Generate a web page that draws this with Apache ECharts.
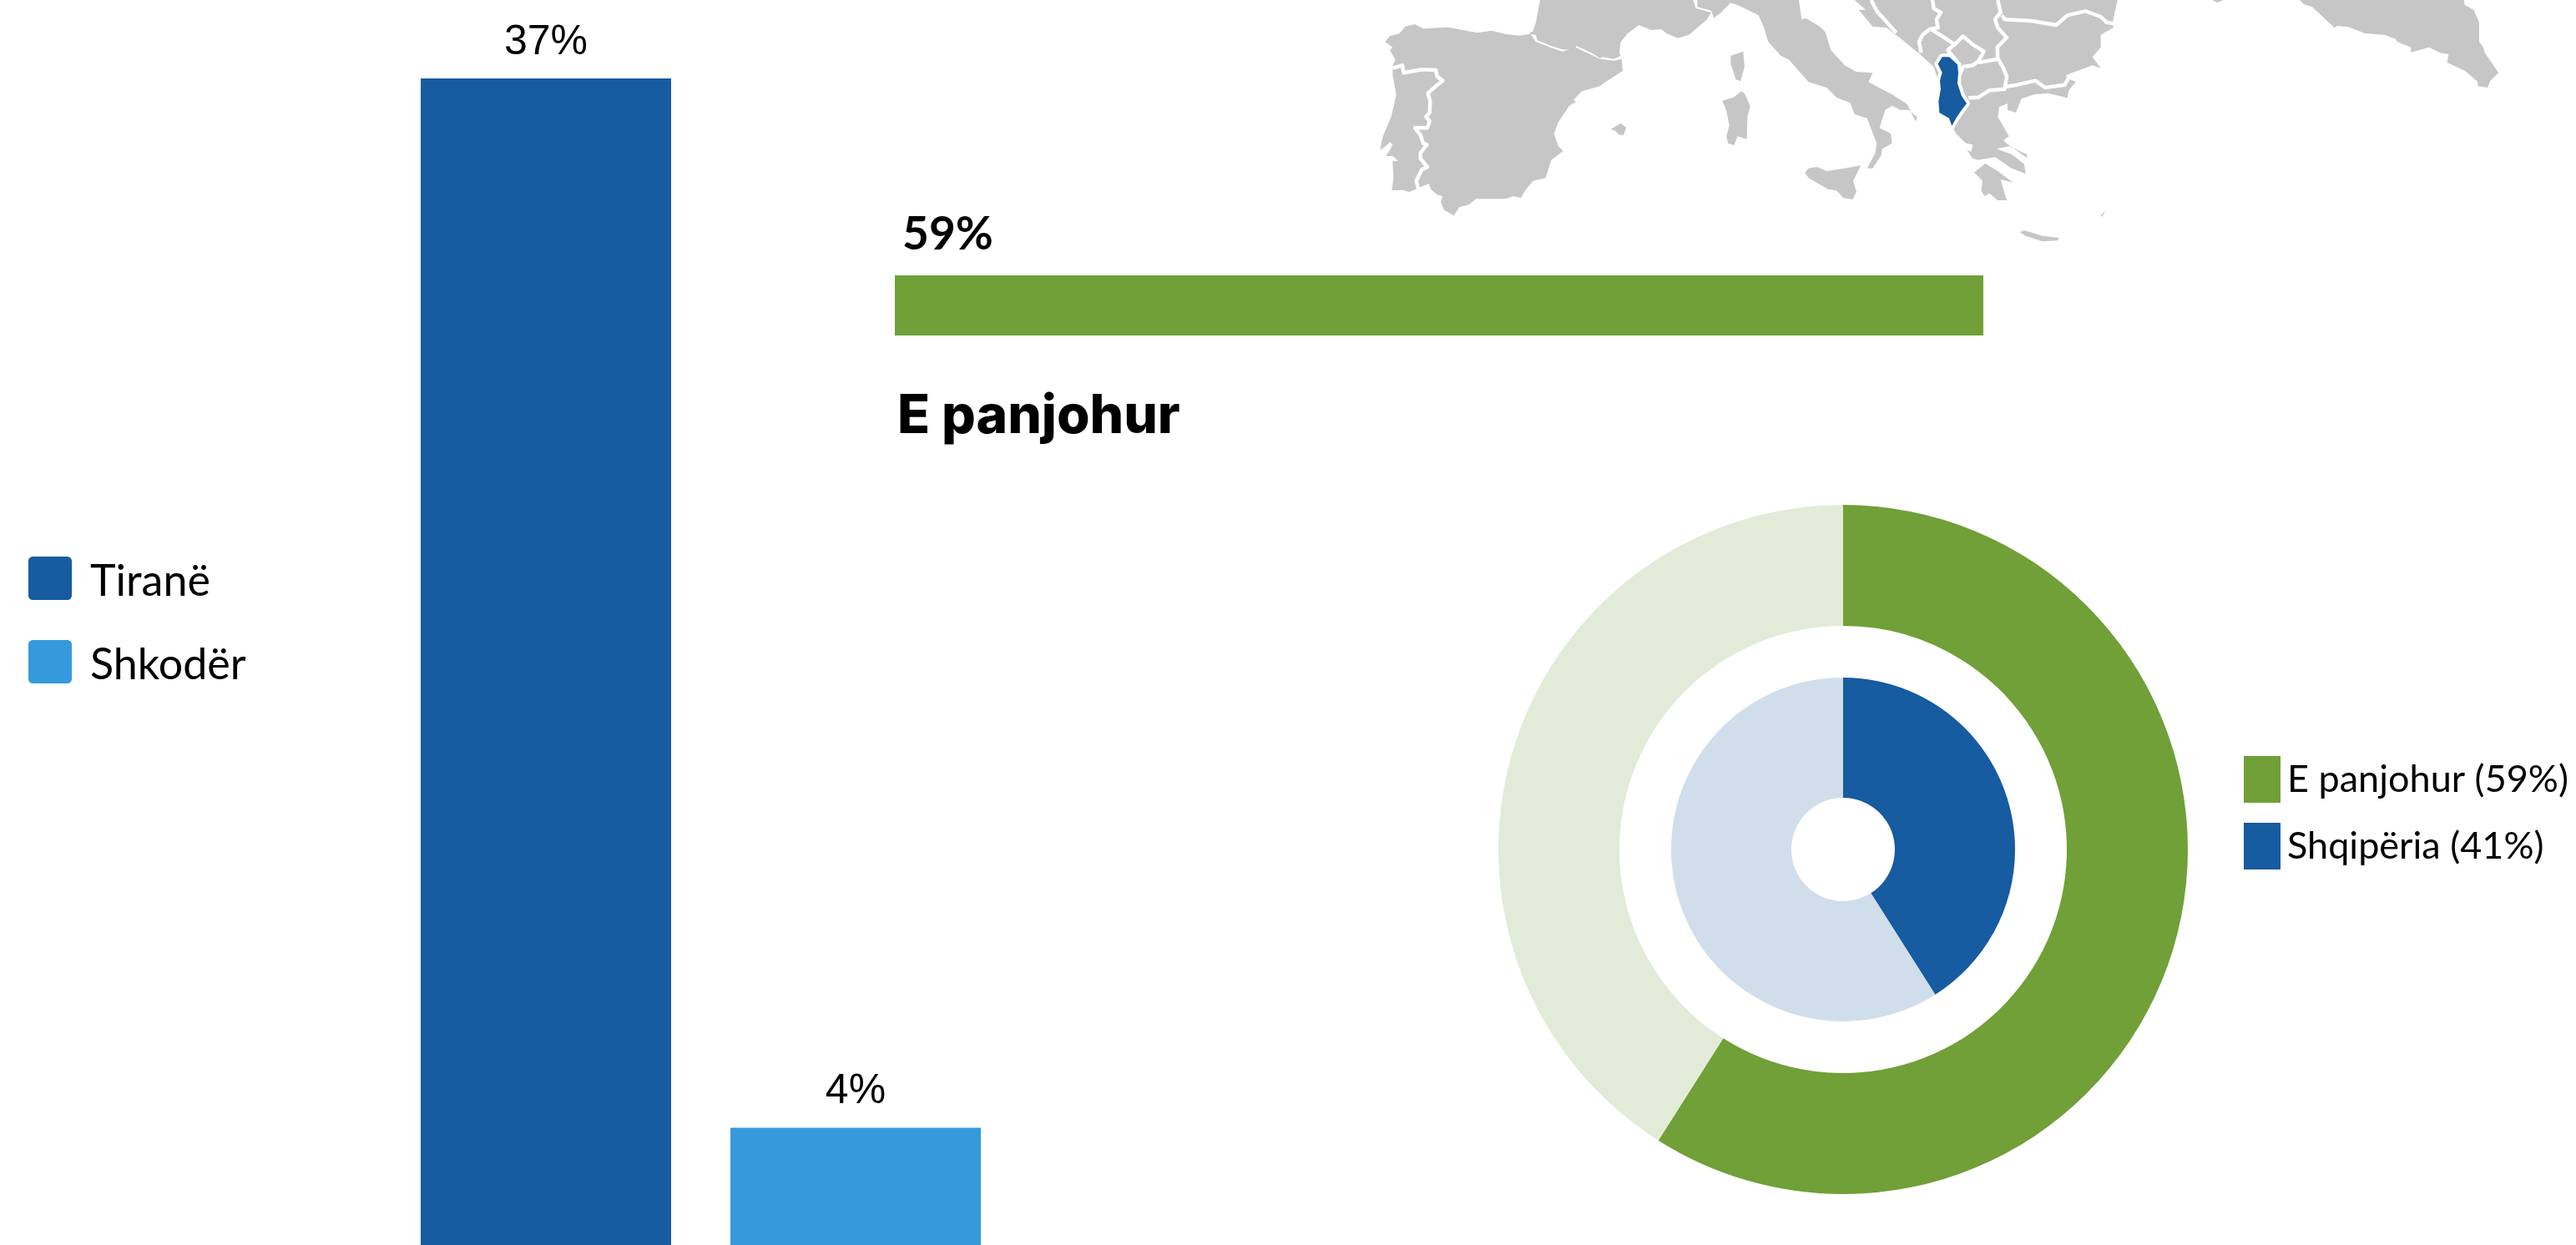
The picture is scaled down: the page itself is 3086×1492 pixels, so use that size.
<!DOCTYPE html>
<html>
<head>
<meta charset="utf-8">
<title>Shqipëria</title>
<script src="https://cdn.jsdelivr.net/npm/echarts@6/dist/echarts.min.js"></script>
<style>
  html, body { margin: 0; padding: 0; background: #fff; overflow: hidden; }
  #chart { width: 3086px; height: 1492px; }
</style>
</head>
<body>
<div id="chart"></div>
<script>
// data
const cityNames = ["Tiranë", "Shkodër"];
const cityValues = [37, 4];
const unknownValue = [59];
const unknownTitle = "E panjohur";
const donutNames = ["E panjohur (59%)", "Shqipëria (41%)"];
const outerRing = [59, 41];
const innerRing = [41, 59];

const BLUE = "#175ba0";
const SKY = "#359add";
const GREEN = "#70a037";
const GREY = "#c6c6c6";
const ROUND_ICON = "path://M2 0H18A2 2 0 0 1 20 2V18A2 2 0 0 1 18 20H2A2 2 0 0 1 0 18V2A2 2 0 0 1 2 0Z";

// background map outlines, traced in crop pixels (3x), [originX, points]
const IBERIA = [1640, [58,150,75,130,110,120,130,95,165,87,195,103,285,98,390,118,440,110,490,122,540,128,580,122,600,150,655,172,695,185,745,172,795,195,830,212,880,218,908,212,912,255,850,295,830,310,765,328,735,360,745,365,720,380,680,440,665,480,680,525,698,543,655,575,635,640,590,650,565,680,545,712,520,705,490,715,385,715,360,735,325,745,305,775,270,755,258,725,265,705,245,700,222,680,215,660,180,675,145,690,120,683,82,685,88,640,85,580,105,578,85,560,60,562,75,540,85,520,75,510,60,525,40,540,50,490,80,420,98,340,85,270,85,235,95,215,75,180,85,170]];
const FRANCE = [1640, [615,0,1165,0,1175,30,1230,45,1215,70,1150,125,1110,137,1070,120,1050,105,1015,108,970,90,930,120,905,150,900,190,905,200,880,212,840,205,830,210,800,190,745,165,740,180,695,178,655,165,605,145,600,125,575,122,590,110,600,80]];
const MALLORCA = [1640, [868,465,905,443,925,458,915,485,900,485,885,470]];
const CORSICA = [1640, [1300,200,1345,185,1350,240,1335,292,1318,285,1300,230]];
const SARDINIA = [1640, [1270,362,1310,350,1340,328,1352,340,1370,382,1360,420,1358,500,1325,490,1312,522,1290,515,1285,490,1295,450,1285,400]];
const ITALY = [2100, [-200,0,-200,25,-150,38,-140,65,-115,45,-80,10,-50,20,20,55,40,100,55,150,100,200,130,215,200,295,265,315,300,350,350,370,365,410,410,425,445,515,440,550,410,605,430,605,460,560,465,535,500,515,495,480,455,460,475,395,500,380,530,395,560,395,590,420,585,437,555,375,500,340,415,295,430,262,370,258,330,235,280,180,260,115,240,95,190,65,175,70,165,0]];
const SICILY = [2100, [187,620,200,605,230,600,265,615,330,605,388,595,360,650,372,690,358,717,325,712,300,685,270,680,200,640]];
const BALKANS = [2100, [365,0,405,35,380,35,430,95,480,100,520,130,600,195,650,240,715,450,730,480,765,515,790,520,785,545,770,540,790,570,810,575,870,565,930,605,980,625,975,590,930,555,875,535,925,525,985,568,985,555,930,530,900,505,920,490,880,420,885,385,915,372,915,395,945,405,965,355,1010,340,1060,335,1130,352,1135,325,1160,295,1130,280,1125,270,1220,235,1250,245,1220,205,1250,170,1250,125,1295,100,1295,70,1310,0]];
const PELOPONNESE = [2100, [795,620,835,588,880,615,935,657,890,645,912,720,880,720,850,695,832,705,820,685,825,650]];
const CRETE = [2100, [960,835,975,828,1040,848,1100,855,1095,865,1040,868,980,848]];
const RHODES = [2100, [1250,775,1268,757,1255,780]];
const TURKEY = [2600, [465,0,480,15,510,25,590,100,600,93,640,97,700,120,770,125,810,140,815,150,865,170,865,188,930,170,970,190,1000,195,995,225,1060,255,1105,295,1105,310,1140,315,1150,290,1180,262,1130,190,1125,170,1110,150,1110,80,1090,35,1058,18,1055,0]];
const CYPRUS_EDGE = [2600, [150,0,170,10,190,0]];
const ALBANIA = [2100, [665,230,680,205,705,205,735,232,738,260,735,300,750,345,768,372,750,395,730,425,715,452,705,425,670,405,667,365,675,320,672,290,680,260]];

const BORDERS = [
  [1640, [85,245,120,235,125,262,190,250,240,252,245,275,265,290,240,310,212,335,220,365,218,405,205,420,218,435,210,460,165,460,185,485,195,515,208,520,185,550,185,570,210,600,190,610,170,650,178,680]],
  [2100, [425,0,445,40,515,118]],
  [2100, [645,0,650,30,675,45,660,70,665,100,635,105,610,125,597,150,605,190]],
  [2100, [640,105,680,130,725,160,755,130,790,160,830,185,810,220,790,235,755,240,745,265]],
  [2100, [725,160,700,180,745,235]],
  [2100, [880,0,890,45,870,70,880,100,912,135,878,170,880,210,900,245,912,275,905,320,850,325,810,350,775,352]],
  [2100, [810,225,880,212]],
  [2100, [905,312,950,305,1015,290,1050,315,1120,305,1135,280]],
  [2100, [895,55,905,70,1000,75,1090,90,1130,55,1195,40,1250,60,1270,80,1298,85]]
];

function toPoints(shape) {
  const pts = [];
  for (let i = 0; i < shape[1].length; i += 2) {
    pts.push([shape[0] + shape[1][i] / 3, shape[1][i + 1] / 3]);
  }
  return pts;
}
function landShape(shape, color) {
  return {
    type: "polygon",
    silent: true,
    shape: { points: toPoints(shape) },
    style: { fill: color || GREY }
  };
}

const mapGraphics = [IBERIA, FRANCE, MALLORCA, CORSICA, SARDINIA, ITALY, SICILY, BALKANS, PELOPONNESE, CRETE, RHODES, TURKEY, CYPRUS_EDGE].map(function (s) {
  return landShape(s);
});
BORDERS.forEach(function (b) {
  mapGraphics.push({
    type: "polyline",
    silent: true,
    shape: { points: toPoints(b) },
    style: { stroke: "#fff", lineWidth: 4.5, fill: null, lineJoin: "round" }
  });
});
// white halo first, then the country on top so it keeps its full width
mapGraphics.push({
  type: "polygon",
  silent: true,
  shape: { points: toPoints(ALBANIA) },
  style: { fill: "#fff", stroke: "#fff", lineWidth: 8, lineJoin: "round" }
});
mapGraphics.push(landShape(ALBANIA, BLUE));

const chart = echarts.init(document.getElementById("chart"));
const valueLabel = {
  show: true,
  position: "top",
  distance: 18,
  color: "#000",
  fontFamily: "Liberation Sans",
  fontSize: 50,
  formatter: "{c}%"
};

chart.setOption({
  animation: false,
  backgroundColor: "#fff",
  title: {
    text: unknownTitle,
    left: 1075,
    top: 468,
    padding: 0,
    textStyle: { fontFamily: "Inter", fontWeight: 800, fontSize: 64, color: "#000" }
  },
  legend: [
    {
      data: cityNames,
      orient: "vertical",
      left: 34,
      top: 667,
      padding: 0,
      itemWidth: 52,
      itemHeight: 52,
      itemGap: 44,
      icon: ROUND_ICON,
      selectedMode: false,
      formatter: "{t|{name}}",
      textStyle: {
        rich: {
          t: { fontFamily: "Lato", fontSize: 52, height: 44, lineHeight: 44, color: "#000", padding: [8, 0, 0, 17] }
        }
      }
    },
    {
      data: donutNames,
      orient: "vertical",
      left: 2688,
      top: 906,
      padding: 0,
      itemWidth: 44,
      itemHeight: 56,
      itemGap: 24,
      icon: "rect",
      selectedMode: false,
      textStyle: { fontFamily: "Lato", fontSize: 45, lineHeight: 44, color: "#000", padding: [6, 0, 0, 3] }
    }
  ],
  // the baseline of the tall bars sits just under the page edge
  grid: [
    { left: 400, width: 879, top: 94, height: 1410, outerBoundsMode: "none" },
    { left: 1072, width: 1304, top: 330, height: 72, outerBoundsMode: "none" }
  ],
  xAxis: [
    { type: "category", gridIndex: 0, data: ["Qytete"], show: false },
    { type: "value", gridIndex: 1, min: 0, max: 59, show: false }
  ],
  yAxis: [
    { type: "value", gridIndex: 0, min: 0, max: 37, show: false },
    { type: "category", gridIndex: 1, data: [unknownTitle], show: false }
  ],
  series: [
    {
      name: cityNames[0],
      type: "bar",
      xAxisIndex: 0,
      yAxisIndex: 0,
      barWidth: 300,
      barGap: "23.67%",
      itemStyle: { color: BLUE },
      label: valueLabel,
      data: [cityValues[0]]
    },
    {
      name: cityNames[1],
      type: "bar",
      xAxisIndex: 0,
      yAxisIndex: 0,
      barWidth: 300,
      itemStyle: { color: SKY },
      label: valueLabel,
      data: [cityValues[1]]
    },
    {
      name: unknownTitle,
      type: "bar",
      xAxisIndex: 1,
      yAxisIndex: 1,
      barWidth: 72,
      itemStyle: { color: GREEN },
      label: {
        show: true,
        position: [9, -76],
        color: "#000",
        fontFamily: "Lato",
        fontWeight: 700,
        fontSize: 55,
        formatter: "{c}%"
      },
      data: unknownValue
    },
    {
      type: "pie",
      center: [2208, 1018],
      radius: [268, 413],
      startAngle: 90,
      silent: true,
      label: { show: false },
      labelLine: { show: false },
      data: [
        { name: donutNames[0], value: outerRing[0], itemStyle: { color: GREEN } },
        { name: "Të tjerë", value: outerRing[1], itemStyle: { color: "#e2ebd7" } }
      ]
    },
    {
      type: "pie",
      center: [2208, 1018],
      radius: [62, 206],
      startAngle: 90,
      silent: true,
      label: { show: false },
      labelLine: { show: false },
      data: [
        { name: donutNames[1], value: innerRing[0], itemStyle: { color: BLUE } },
        { name: "Pjesa tjetër", value: innerRing[1], itemStyle: { color: "#d0deeb" } }
      ]
    }
  ],
  graphic: mapGraphics
});
</script>
</body>
</html>
